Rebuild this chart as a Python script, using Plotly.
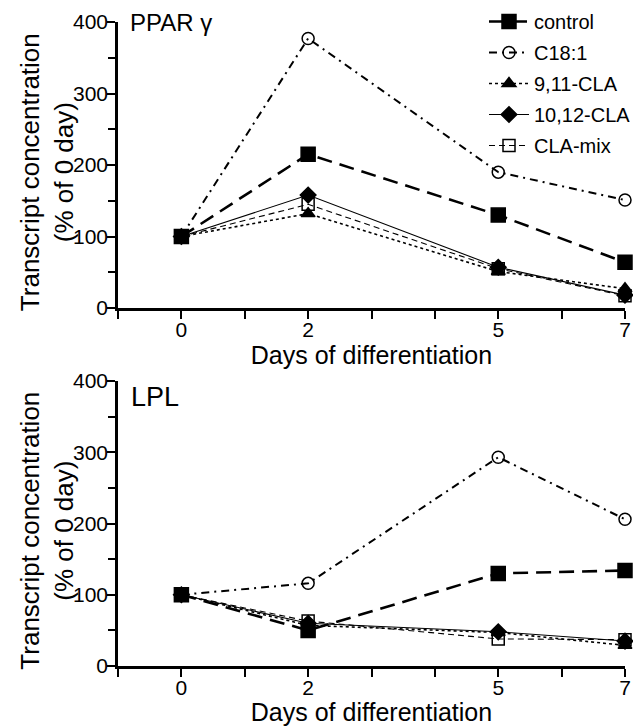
import plotly.graph_objects as go
from plotly.subplots import make_subplots

days = [0, 2, 5, 7]
series_names = ["control", "C18:1", "9,11-CLA", "10,12-CLA", "CLA-mix"]

ppar_control = [100, 215, 130, 64]
ppar_c181 = [100, 377, 190, 151]
ppar_911 = [100, 132, 51, 27]
ppar_1012 = [100, 158, 57, 18]
ppar_mix = [100, 145, 55, 17]

lpl_control = [100, 50, 130, 134]
lpl_c181 = [100, 116, 293, 206]
lpl_911 = [100, 57, 47, 29]
lpl_1012 = [100, 60, 48, 35]
lpl_mix = [100, 63, 38, 37]

x_ticks = [-1, 0, 1, 2, 3, 4, 5, 6, 7]
x_ticktext = ["", "0", "", "2", "", "", "5", "", "7"]
y_ticks = [0, 100, 200, 300, 400]
y_minor = [50, 150, 250, 350]
y_title = "Transcript concentration<br>(% of 0 day)"
x_title = "Days of differentiation"

styles = [
    dict(dash="15px,8px", width=2.6, symbol="square", size=14),
    dict(dash="8px,5px,2px,5px", width=2.0, symbol="circle-open", size=12),
    dict(dash="dot", width=1.6, symbol="triangle-up", size=12),
    dict(dash="solid", width=1.1, symbol="diamond", size=12),
    dict(dash="6px,4px", width=1.1, symbol="square-open", size=12),
]

fig = make_subplots(rows=2, cols=1)

top = [ppar_control, ppar_c181, ppar_911, ppar_1012, ppar_mix]
bot = [lpl_control, lpl_c181, lpl_911, lpl_1012, lpl_mix]

for i, name in enumerate(series_names):
    s = styles[i]
    for row, data in ((1, top), (2, bot)):
        fig.add_trace(go.Scatter(
            x=days, y=data[i], mode="lines+markers", name=name,
            legendgroup=name, showlegend=(row == 1),
            line=dict(color="black", width=s["width"], dash=s["dash"]),
            marker=dict(symbol=s["symbol"], size=s["size"], color="black",
                        line=dict(color="black", width=1.5)),
            cliponaxis=False,
        ), row=row, col=1)

font = "Liberation Sans, Arial, sans-serif"
for row in (1, 2):
    fig.update_xaxes(range=[-1, 7], tickmode="array", tickvals=x_ticks, ticktext=x_ticktext,
                     ticks="outside", ticklen=8, tickwidth=2, tickcolor="black",
                     showline=True, linecolor="black", linewidth=2.5,
                     showgrid=False, zeroline=False, automargin=False,
                     ticklabeloverflow="allow", ticklabelstandoff=-7,
                     tickfont=dict(size=21, color="black", family=font),
                     title=dict(text=x_title, standoff=3,
                                font=dict(size=25, color="black", family=font)),
                     row=row, col=1)
    fig.update_yaxes(range=[0, 400], tickmode="array", tickvals=y_ticks,
                     ticks="outside", ticklen=8, tickwidth=2, tickcolor="black",
                     minor=dict(tickvals=y_minor, ticks="outside", ticklen=7,
                                tickwidth=2, tickcolor="black"),
                     showline=True, linecolor="black", linewidth=2.5,
                     showgrid=False, zeroline=False, automargin=False,
                     ticklabelstandoff=-5,
                     tickfont=dict(size=21, color="black", family=font),
                     row=row, col=1)

# plot area: left 118, right 625, top 22, bottom 666 (px)
fig.update_layout(
    xaxis=dict(domain=[0, 1], anchor="y"),
    xaxis2=dict(domain=[0, 1], anchor="y2"),
    yaxis=dict(domain=[358 / 644, 1.0]),
    yaxis2=dict(domain=[0, 285 / 644]),
)

for yref, yc in (("y domain", 0.475), ("y2 domain", 0.475)):
    fig.add_annotation(text=y_title, xref="paper", yref=yref, x=(47 - 118) / 507, y=yc,
                       xanchor="center", yanchor="middle", textangle=-90, showarrow=False,
                       font=dict(size=26, color="black", family=font))

fig.add_annotation(text="PPAR \u03b3", xref="x domain", yref="y domain", x=0.0197, y=1.0,
                   xanchor="left", yanchor="middle", showarrow=False,
                   font=dict(size=24, color="black", family=font))
fig.add_annotation(text="LPL", xref="x2 domain", yref="y2 domain", x=0.022, y=0.944,
                   xanchor="left", yanchor="middle", showarrow=False,
                   font=dict(size=27, color="black", family=font))

fig.update_layout(
    template="none",
    width=633, height=726,
    margin=dict(l=118, r=8, t=22, b=60, autoexpand=False),
    paper_bgcolor="white", plot_bgcolor="white",
    font=dict(family=font, color="black"),
    showlegend=True,
    legend=dict(x=(484 - 118) / 507, y=1 + 20 / 644, xanchor="left", yanchor="top",
                bgcolor="rgba(0,0,0,0)", borderwidth=0,
                font=dict(size=20, color="black", family=font),
                tracegroupgap=2, traceorder="grouped", itemwidth=40),
)

fig.write_html("out.html", config={"displayModeBar": False},
               post_script="document.body.style.margin='0px';")
